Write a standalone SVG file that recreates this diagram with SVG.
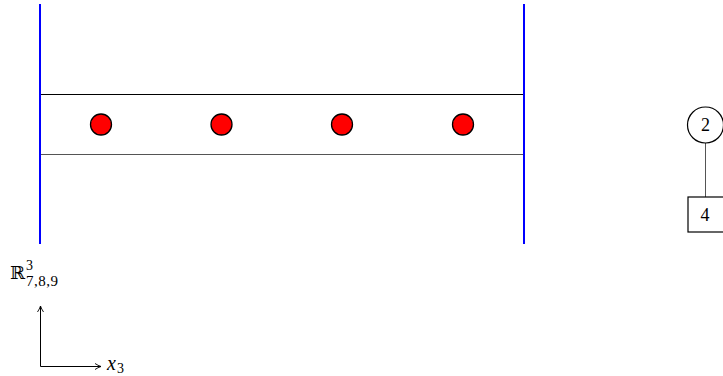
<svg xmlns="http://www.w3.org/2000/svg" width="723" height="376" viewBox="0 0 723 376">
<style>
.blue{stroke:#0000ff;stroke-width:2;fill:none}
.dot{fill:#ff0000;stroke:#000;stroke-width:1.3}
.t{font-family:"Liberation Serif","DejaVu Serif",serif;fill:#000}
.ax{stroke:#000;stroke-width:1;fill:none}
</style>
<defs>
<marker id="ah" viewBox="0 0 8 8" refX="7" refY="4" markerWidth="8" markerHeight="8" markerUnits="userSpaceOnUse" orient="auto">
<path d="M1,1 Q4,3 7,4 Q4,5 1,7" fill="none" stroke="#000" stroke-width="0.9"/>
</marker>
</defs>
<g id="band">
<line x1="40" y1="94.5" x2="524" y2="94.5" stroke="#000" stroke-width="1"/>
<line x1="40" y1="154.5" x2="524" y2="154.5" stroke="#555" stroke-width="1"/>
</g>
<g id="walls">
<line class="blue" x1="40" y1="4" x2="40" y2="244"/>
<line class="blue" x1="524" y1="4" x2="524" y2="244"/>
</g>
<g id="dots">
<circle class="dot" cx="101" cy="124.5" r="10.5"/>
<circle class="dot" cx="221.5" cy="124.5" r="10.5"/>
<circle class="dot" cx="342" cy="124.5" r="10.5"/>
<circle class="dot" cx="463" cy="124.5" r="10.5"/>
</g>
<g id="connectors">
<line x1="705.5" y1="143" x2="705.5" y2="197" stroke="#555" stroke-width="1"/>
</g>
<g id="node2">
<circle cx="705.5" cy="125" r="18" fill="#fff" stroke="#000" stroke-width="1.2"/>
<text class="t" x="705.5" y="131" font-size="18" text-anchor="middle">2</text>
</g>
<g id="node4">
<rect x="688" y="197" width="40" height="35" fill="#fff" stroke="#000" stroke-width="1.2"/>
<text class="t" x="705" y="221" font-size="18" text-anchor="middle">4</text>
</g>
<g id="axes">
<line class="ax" x1="40.5" y1="366.5" x2="40.5" y2="306" marker-end="url(#ah)"/>
<line class="ax" x1="40.5" y1="366.5" x2="101" y2="366.5" marker-end="url(#ah)"/>
<text x="10" y="279" font-size="18" font-family="'DejaVu Serif',serif">ℝ</text>
<text class="t" x="26" y="270" font-size="14">3</text>
<text class="t" x="26" y="286" font-size="15" letter-spacing="0.5">7,8,9</text>
<text class="t" x="107" y="370" font-size="20" font-style="italic">x</text>
<text class="t" x="117" y="373" font-size="14">3</text>
</g>
</svg>
